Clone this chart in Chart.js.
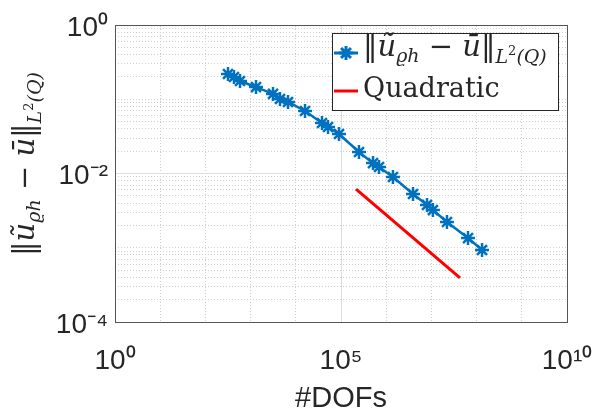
<!DOCTYPE html>
<html>
<head>
<meta charset="utf-8">
<script src="https://cdn.jsdelivr.net/npm/chart.js@4.4.1/dist/chart.umd.min.js"></script>
<style>
  body { margin: 0; background: #ffffff; }
  #errChart { display: block; }
</style>
</head>
<body>
<canvas id="errChart" width="598" height="413"></canvas>
<script>
// Error data
const dofs = [316, 429, 583, 1317, 3130, 4470, 6720, 16000, 38000, 51600, 90300,
              250000, 511000, 693000, 1410000, 3920000, 8000000, 10800000, 22100000, 64500000, 132000000];
const errL2 = [0.219, 0.1995, 0.176, 0.146, 0.118, 0.1008, 0.0918, 0.0695, 0.0479, 0.0423, 0.0340,
               0.0195, 0.0138, 0.01224, 0.00897, 0.0053, 0.00377, 0.00322, 0.00222, 0.00135, 0.000933];

// Reference slope line
const quadDofs = [215000, 42900000];
const quadErr = [0.00618, 0.000392];

// Axis ticks
const xTickVals = [1, 1e5, 1e10];
const xTickLabels = ['10⁰', '10⁵', '10¹⁰'];
const xMinorVals = [1e1, 1e2, 1e3, 1e4, 1e6, 1e7, 1e8, 1e9];
const yTickVals = [1e-4, 1e-2, 1];
const yTickLabels = ['10⁻⁴', '10⁻²', '10⁰'];
const yMinorVals = [];
for (let e = -4; e < 0; e++) {
    for (let k = 1; k <= 9; k++) {
        const v = k * Math.pow(10, e);
        if (!(k === 1 && e % 2 === 0)) yMinorVals.push(v);
    }
}

const textColor = '#262626';
const blue = '#0072BD';
const red = '#FF0000';

// norm label pieces (text, font, baseline shift)
const normParts = [
    { t: '‖', f: '29px "DejaVu Serif"', dy: 0 },
    { t: 'ũ', f: 'italic 29px "DejaVu Serif"', dy: 0 },
    { t: 'ϱh', f: 'italic 19px "DejaVu Serif"', dy: 6 },
    { t: ' − ', f: '29px "DejaVu Serif"', dy: 0 },
    { t: 'ū', f: 'italic 29px "DejaVu Serif"', dy: 0 },
    { t: '‖', f: '29px "DejaVu Serif"', dy: 0 },
    { t: 'L', f: 'italic 19px "DejaVu Serif"', dy: 7 },
    { t: '2', f: '13px "DejaVu Serif"', dy: -1 },
    { t: '(Q)', f: 'italic 19px "DejaVu Serif"', dy: 7 }
];

function partsWidth(ctx, parts) {
    let w = 0;
    parts.forEach(p => { ctx.font = p.f; w += ctx.measureText(p.t).width; });
    return w;
}

function drawParts(ctx, parts, x, y) {
    let cx = x;
    parts.forEach(p => {
        ctx.font = p.f;
        ctx.fillText(p.t, cx, y + p.dy);
        cx += ctx.measureText(p.t).width;
    });
}

// Legend box and y title drawn with mixed font sizes
const mathText = {
    id: 'mathText',
    afterDraw(chart) {
        const ctx = chart.ctx;
        ctx.save();
        ctx.fillStyle = textColor;
        ctx.textBaseline = 'alphabetic';
        ctx.textAlign = 'left';

        // y axis title
        ctx.save();
        ctx.translate(34, 164);
        ctx.rotate(-Math.PI / 2);
        drawParts(ctx, normParts, -partsWidth(ctx, normParts) / 2, 0);
        ctx.restore();

        // legend
        const bx = 332, by = 33, bw = 226, bh = 77;
        ctx.fillStyle = '#ffffff';
        ctx.fillRect(bx, by, bw, bh);
        ctx.strokeStyle = textColor;
        ctx.lineWidth = 1;
        ctx.strokeRect(bx + 0.5, by + 0.5, bw, bh);

        const ds = chart.data.datasets;
        ctx.lineWidth = 3;
        ctx.strokeStyle = ds[0].borderColor;
        ctx.beginPath();
        ctx.moveTo(334, 53);
        ctx.lineTo(358, 53);
        ctx.stroke();
        Chart.helpers.drawPoint(ctx, {
            pointStyle: 'star', radius: 7, borderWidth: 2.5
        }, 346, 53);

        ctx.strokeStyle = ds[1].borderColor;
        ctx.beginPath();
        ctx.moveTo(334, 91);
        ctx.lineTo(358, 91);
        ctx.stroke();

        ctx.fillStyle = textColor;
        drawParts(ctx, normParts, 363, 56);
        ctx.font = '27px "DejaVu Serif"';
        ctx.fillText(ds[1].label, 363, 97);
        ctx.restore();
    }
};

function supLabel(vals, labels) {
    return v => {
        const i = vals.indexOf(v);
        return i >= 0 ? labels[i] : '';
    };
}

const tickFont = { family: '"Liberation Sans", Arial, sans-serif', size: 28 };

new Chart(document.getElementById('errChart'), {
    type: 'scatter',
    data: {
        datasets: [
            {
                label: '‖ũϱh − ū‖L²(Q)',
                data: dofs.map((x, i) => ({ x: x, y: errL2[i] })),
                showLine: true,
                borderColor: blue,
                backgroundColor: blue,
                borderWidth: 2.5,
                pointStyle: 'star',
                pointRadius: 7,
                pointBorderWidth: 2.5,
                pointBorderColor: blue,
                tension: 0
            },
            {
                label: 'Quadratic',
                data: quadDofs.map((x, i) => ({ x: x, y: quadErr[i] })),
                showLine: true,
                borderColor: red,
                backgroundColor: red,
                borderWidth: 3,
                pointRadius: 0
            }
        ]
    },
    options: {
        responsive: false,
        animation: false,
        devicePixelRatio: 1,
        layout: { padding: { top: 25, right: 31, left: 0, bottom: 0 } },
        plugins: {
            legend: { display: false },
            tooltip: { enabled: false }
        },
        scales: {
            x: {
                type: 'logarithmic',
                position: 'bottom',
                min: 1,
                max: 1e10,
                afterBuildTicks: s => { s.ticks = xTickVals.map(v => ({ value: v })); },
                afterFit: s => { s.height = 91; },
                ticks: {
                    autoSkip: false,
                    maxRotation: 0,
                    padding: 3,
                    color: textColor,
                    font: tickFont,
                    callback: supLabel(xTickVals, xTickLabels)
                },
                grid: {
                    color: '#dedede',
                    lineWidth: 1,
                    drawTicks: true,
                    tickLength: 19,
                    tickColor: 'rgba(0,0,0,0)'
                },
                border: { display: true, color: '#555555', width: 1 },
                title: {
                    display: true,
                    text: '#DOFs',
                    color: textColor,
                    font: { family: '"Liberation Sans", Arial, sans-serif', size: 29, lineHeight: 1 },
                    padding: 0
                }
            },
            x2: {
                type: 'logarithmic',
                position: 'top',
                min: 1,
                max: 1e10,
                afterBuildTicks: s => { s.ticks = xMinorVals.map(v => ({ value: v })); },
                afterFit: s => { s.height = 0; },
                ticks: { display: false },
                grid: { color: '#cfcfcf', lineWidth: 1, drawTicks: false },
                border: { display: true, color: '#555555', width: 1, dash: [1, 2] }
            },
            y: {
                type: 'logarithmic',
                position: 'left',
                min: 1e-4,
                max: 1,
                afterBuildTicks: s => { s.ticks = yTickVals.map(v => ({ value: v })); },
                afterFit: s => { s.width = 115; },
                ticks: {
                    autoSkip: false,
                    padding: 7,
                    labelOffset: 3,
                    color: textColor,
                    font: tickFont,
                    callback: supLabel(yTickVals, yTickLabels)
                },
                grid: { color: '#dedede', lineWidth: 1, drawTicks: false },
                border: { display: true, color: '#555555', width: 1 }
            },
            y2: {
                type: 'logarithmic',
                position: 'right',
                min: 1e-4,
                max: 1,
                afterBuildTicks: s => { s.ticks = yMinorVals.map(v => ({ value: v })); },
                afterFit: s => { s.width = 0; },
                ticks: { display: false },
                grid: { color: '#cfcfcf', lineWidth: 1, drawTicks: false },
                border: { display: true, color: '#555555', width: 1, dash: [1, 2] }
            }
        }
    },
    plugins: [mathText]
});
</script>
</body>
</html>
